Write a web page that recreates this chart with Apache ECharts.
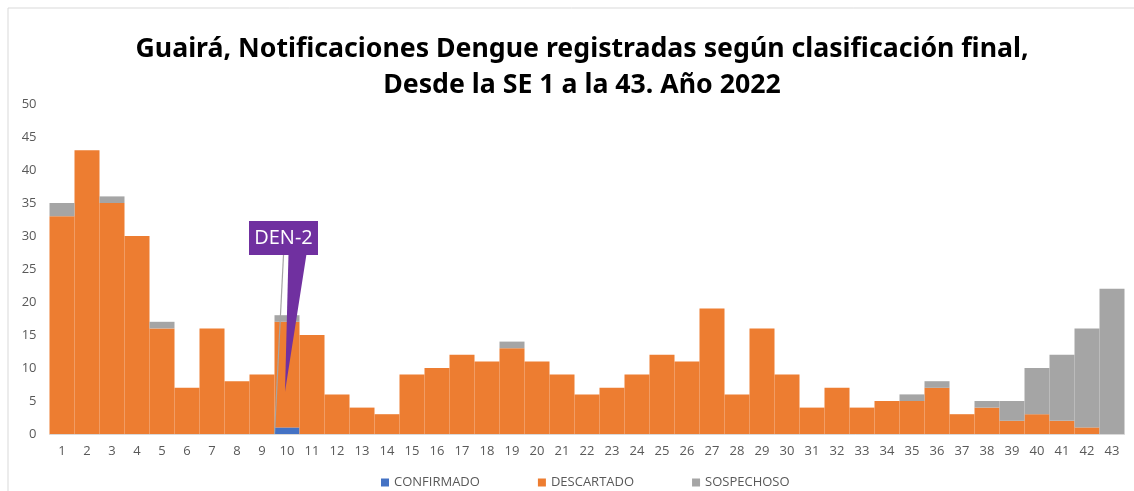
<!DOCTYPE html>
<html>
<head>
<meta charset="utf-8">
<script src="https://cdn.jsdelivr.net/npm/echarts@6/dist/echarts.min.js"></script>
<style>
html,body{margin:0;padding:0;background:#fff;}
#c{width:1134px;height:491px;}
</style>
</head>
<body>
<div id="c"></div>
<script>
const weeks = ['1','2','3','4','5','6','7','8','9','10','11','12','13','14','15','16','17','18','19','20','21','22','23','24','25','26','27','28','29','30','31','32','33','34','35','36','37','38','39','40','41','42','43'];
const confirmado = [0,0,0,0,0,0,0,0,0,1,0,0,0,0,0,0,0,0,0,0,0,0,0,0,0,0,0,0,0,0,0,0,0,0,0,0,0,0,0,0,0,0,0];
const descartado = [33,43,35,30,16,7,16,8,9,16,15,6,4,3,9,10,12,11,13,11,9,6,7,9,12,11,19,6,16,9,4,7,4,5,5,7,3,4,2,3,2,1,0];
const sospechoso = [2,0,1,0,1,0,0,0,0,1,0,0,0,0,0,0,0,0,1,0,0,0,0,0,0,0,0,0,0,0,0,0,0,0,1,1,0,1,3,7,10,15,22];
const yTicks = {min:0, max:50, interval:5};
const titleText = 'Guairá, Notificaciones Dengue registradas según clasificación final,\nDesde la SE 1 a la 43. Año 2022';
const annotation = {label:'DEN-2', category:'10', tipValue:6.4};

const chart = echarts.init(document.getElementById('c'));
const labelFont = "'Open Sans',sans-serif";
chart.setOption({
  animation:false,
  title:{text:titleText, left:577, textAlign:'center', top:26,
    textStyle:{fontFamily:"'Noto Sans',sans-serif", fontWeight:'bold', fontSize:26.7, color:'#000', lineHeight:36}},
  legend:{top:471, left:376, itemWidth:8, itemHeight:8, itemGap:58, icon:'rect',
    textStyle:{color:'#595959', fontSize:13, fontFamily:labelFont}},
  grid:{left:49.5, right:9.5, top:104, bottom:57},
  xAxis:{type:'category', data:weeks,
    axisLine:{lineStyle:{color:'#d9d9d9'}}, axisTick:{show:false},
    axisLabel:{color:'#595959', fontSize:13, margin:11, fontFamily:labelFont}},
  yAxis:{type:'value', min:yTicks.min, max:yTicks.max, interval:yTicks.interval,
    splitLine:{show:false}, axisLine:{show:false},
    axisLabel:{color:'#595959', fontSize:13, margin:13, fontFamily:labelFont}},
  series:[
    {name:'CONFIRMADO', type:'bar', stack:'t', data:confirmado, barCategoryGap:0, itemStyle:{color:'#4472C4'}},
    {name:'DESCARTADO', type:'bar', stack:'t', data:descartado, barCategoryGap:0, itemStyle:{color:'#ED7D31'}},
    {name:'SOSPECHOSO', type:'bar', stack:'t', data:sospechoso, barCategoryGap:0, itemStyle:{color:'#A5A5A5'}}
  ]
});

function addAnnotation(){
  const idx = weeks.indexOf(annotation.category);
  const tip = chart.convertToPixel({gridIndex:0}, [idx, annotation.tipValue]);
  const base = chart.convertToPixel({gridIndex:0}, [idx, 0]);
  const step = chart.convertToPixel({gridIndex:0}, [idx+1, 0])[0] - base[0];
  const cx = base[0]-3.5;
  const boxTop = 221, boxBottom = 255, boxW = 69;
  chart.setOption({graphic:[
    {type:'rect', shape:{x:8, y:8, width:1140, height:500}, style:{fill:'none', stroke:'#d9d9d9', lineWidth:1}, silent:true},
    {type:'line', shape:{x1:cx, y1:boxBottom, x2:base[0]-step/2, y2:base[1]}, style:{stroke:'#a5a5a5', lineWidth:1.2}, z:10},
    {type:'polygon', shape:{points:[[cx+5,boxBottom-1],[cx+23,boxBottom-1],[tip[0]-2,tip[1]]]}, style:{fill:'#7030A0'}, z:11},
    {type:'rect', shape:{x:cx-boxW/2, y:boxTop, width:boxW, height:boxBottom-boxTop}, style:{fill:'#7030A0'}, z:11},
    {type:'text', x:cx, y:(boxTop+boxBottom)/2, style:{text:annotation.label, fill:'#fff', fontSize:20, fontFamily:labelFont, align:'center', verticalAlign:'middle'}, z:12}
  ]});
}
addAnnotation();
</script>
</body>
</html>
